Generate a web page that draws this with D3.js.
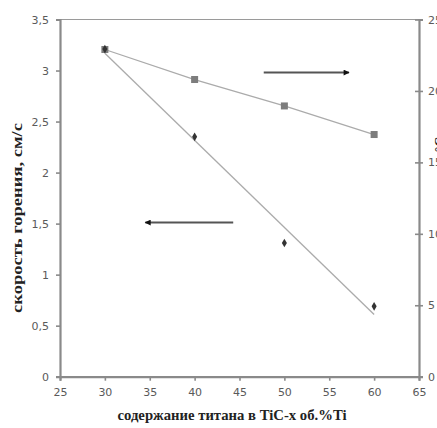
<!DOCTYPE html>
<html><head><meta charset="utf-8">
<script src="https://cdn.jsdelivr.net/npm/d3@7"></script>
<style>body{margin:0;background:#fff;}svg{display:block;}</style>
</head><body>
<script>
const xValues = [30, 40, 50, 60];
const speed = [3.21, 2.35, 1.31, 0.69];           // left axis, см/с
const rightSeries = [22.9, 20.8, 18.95, 16.95];    // right axis
const speedTrendX = [30, 60];
const speedTrendY = [3.17, 0.61];
const xTicks = [25, 30, 35, 40, 45, 50, 55, 60, 65];
const yLeftTicks = [0, 0.5, 1, 1.5, 2, 2.5, 3, 3.5];
const yRightTicks = [0, 5, 10, 15, 20, 25];
const xTitle = "содержание титана в TiC-x об.%Ti";
const yTitle = "скорость горения, см/с";
const yRightTitle = "температура горения, °С";

const W = 437, H = 428;
const svg = d3.select("body").append("svg").attr("width", W).attr("height", H);
const L = 60, R = 419, T = 19.5, B = 376.7;
const x = d3.scaleLinear().domain([25, 65]).range([L, R]);
const yL = d3.scaleLinear().domain([0, 3.5]).range([B, T]);
const yR = d3.scaleLinear().domain([0, 25]).range([B, T]);
const axisColor = "#8a8a8a";
const fmt = d => String(d).replace(".", ",");

// top border
svg.append("line").attr("x1", L).attr("x2", R).attr("y1", T).attr("y2", T)
  .attr("stroke", "#9a9a9a").attr("stroke-width", 1);

// x axis
const gx = svg.append("g").attr("transform", `translate(0,${B})`)
  .call(d3.axisBottom(x).tickValues(xTicks).tickSize(4).tickPadding(8).tickFormat(d => d));
// left axis
const gl = svg.append("g").attr("transform", `translate(${L},0)`)
  .call(d3.axisLeft(yL).tickValues(yLeftTicks).tickSize(4).tickPadding(7).tickFormat(fmt));
// right axis
const gr = svg.append("g").attr("transform", `translate(${R},0)`)
  .call(d3.axisRight(yR).tickValues(yRightTicks).tickSize(4).tickPadding(5).tickFormat(d => d));
gr.selectAll(".tick line").attr("x1", -4);

[gx, gl, gr].forEach(g => {
  g.select(".domain").attr("stroke", axisColor).attr("stroke-width", 2.2);
  g.selectAll(".tick line").attr("stroke", axisColor).attr("stroke-width", 1.6);
  g.selectAll(".tick text").attr("fill", "#5a5a5a").attr("font-family", "DejaVu Sans, Verdana, sans-serif")
    .attr("font-size", 11);
});

// trend line for speed
svg.append("line")
  .attr("x1", x(speedTrendX[0])).attr("y1", yL(speedTrendY[0]))
  .attr("x2", x(speedTrendX[1])).attr("y2", yL(speedTrendY[1]))
  .attr("stroke", "#ababab").attr("stroke-width", 1.3);

// right series line
svg.append("path").datum(xValues.map((v, i) => [v, rightSeries[i]]))
  .attr("d", d3.line().x(d => x(d[0])).y(d => yR(d[1])))
  .attr("fill", "none").attr("stroke", "#ababab").attr("stroke-width", 1.3);

// squares
svg.selectAll(".sq").data(xValues.map((v, i) => [v, rightSeries[i]])).enter().append("rect")
  .attr("x", d => x(d[0]) - 3.5).attr("y", d => yR(d[1]) - 3.5)
  .attr("width", 7).attr("height", 7).attr("fill", "#7d7d7d");

// diamonds
svg.selectAll(".dm").data(xValues.map((v, i) => [v, speed[i]])).enter().append("path")
  .attr("transform", d => `translate(${x(d[0])},${yL(d[1])})`)
  .attr("d", d3.symbol(d3.symbolDiamond, 22)())
  .attr("fill", "#333");

// arrows
const defs = svg.append("defs");
defs.append("marker").attr("id", "ah").attr("viewBox", "0 0 10 10").attr("refX", 9).attr("refY", 5)
  .attr("markerWidth", 9).attr("markerHeight", 6).attr("markerUnits", "userSpaceOnUse")
  .attr("orient", "auto").append("path").attr("d", "M0,0 L10,5 L0,10 z").attr("fill", "#111");
function arrow(x1, x2, yy) {
  svg.append("line").attr("x1", x1).attr("x2", x2).attr("y1", yy).attr("y2", yy)
    .attr("stroke", "#555").attr("stroke-width", 2).attr("marker-end", "url(#ah)");
}
// arrow positions expressed in data space
arrow(x(47.7), x(57.2), yL(2.98));
arrow(x(44.3), x(34.5), yL(1.51));

// titles
svg.append("text").attr("x", 232).attr("y", 420).attr("text-anchor", "middle")
  .attr("font-family", "Liberation Serif, serif").attr("font-weight", "bold").attr("font-size", 14)
  .attr("textLength", 229).attr("lengthAdjust", "spacingAndGlyphs")
  .attr("fill", "#222").text(xTitle);
svg.append("text").attr("transform", "translate(22,218) rotate(-90)").attr("text-anchor", "middle")
  .attr("font-family", "Liberation Serif, serif").attr("font-weight", "bold").attr("font-size", 14)
  .attr("textLength", 190).attr("lengthAdjust", "spacingAndGlyphs")
  .attr("fill", "#222").text(yTitle);
// right-axis title lies mostly beyond the right edge, as in the reference
svg.append("text").attr("transform", "translate(445,215) rotate(-90)").attr("text-anchor", "middle")
  .attr("font-family", "Liberation Serif, serif").attr("font-weight", "bold").attr("font-size", 14)
  .attr("fill", "#222").text(yRightTitle);
</script>
</body></html>
